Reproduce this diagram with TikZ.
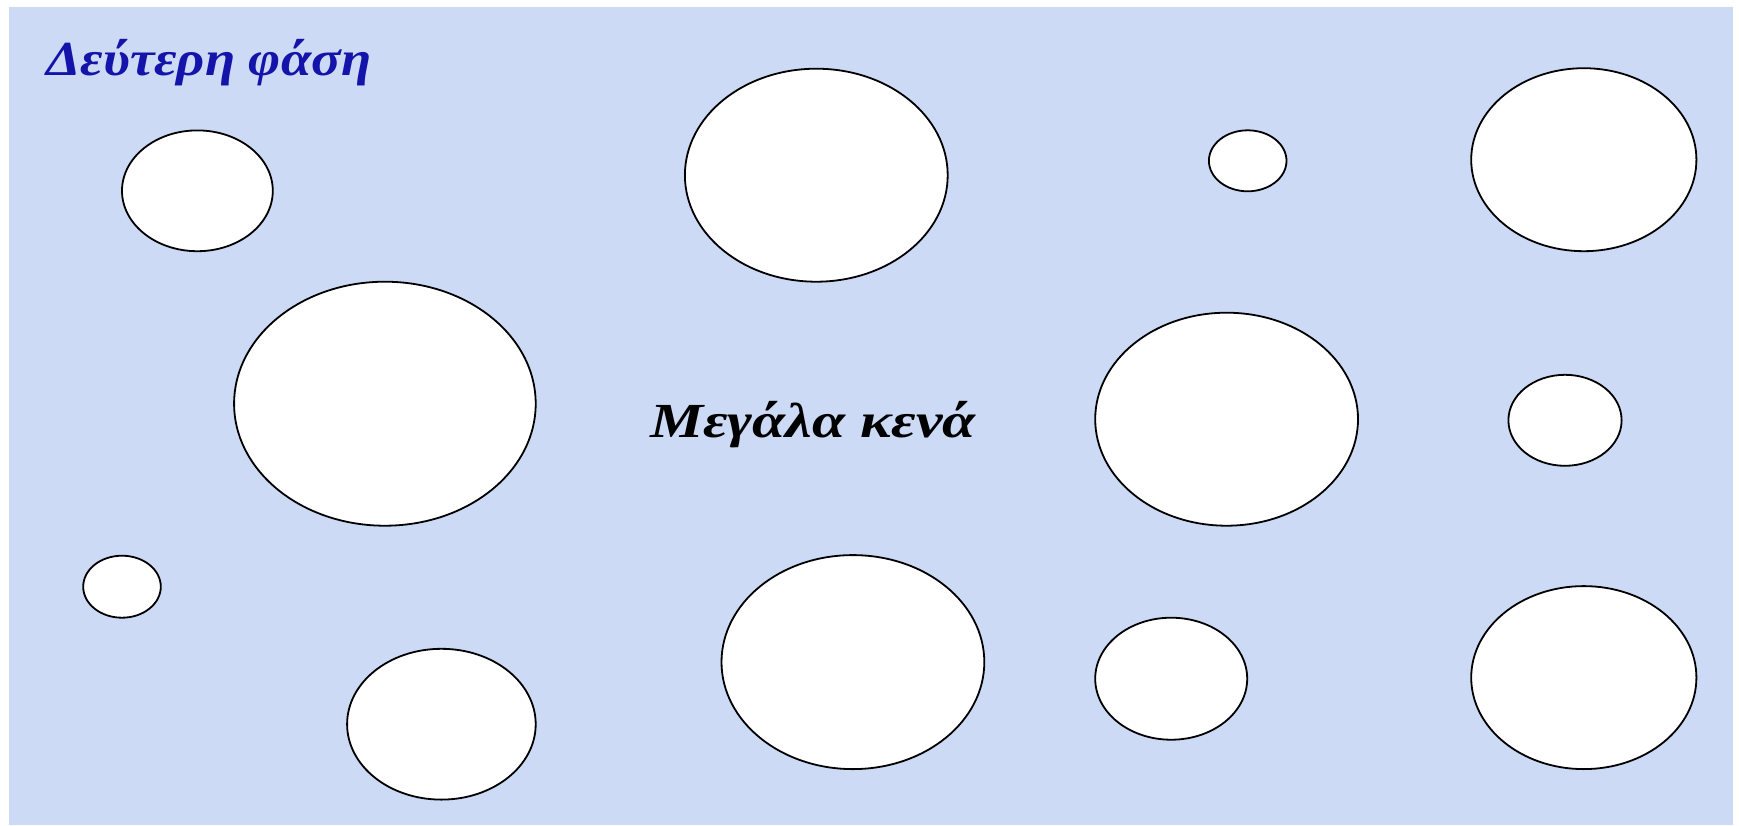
\documentclass[tikz,border=0pt]{standalone}
\usepackage{fontspec}
\setmainfont{Liberation Serif}
\definecolor{bgblue}{RGB}{204,218,246}
\definecolor{titleblue}{RGB}{20,20,170}
\begin{document}
\begin{tikzpicture}[x=1pt,y=-1pt,
  pore/.style={draw=black,line width=1.8pt,fill=white},
  lbl/.style={font=\bfseries\itshape\fontsize{49}{54}\selectfont,inner sep=0pt}]
\useasboundingbox (0,0) rectangle (1739,825);
\fill[white] (0,0) rectangle (1739,825);
\fill[bgblue] (9,7) rectangle (1733,825);
\draw[pore] (197.4,190.8) ellipse [x radius=75.4,y radius=60.4];
\draw[pore] (816.3,175.2) ellipse [x radius=131.4,y radius=106.5];
\draw[pore] (1247.7,160.8) ellipse [x radius=38.8,y radius=30.5];
\draw[pore] (1583.8,159.7) ellipse [x radius=112.6,y radius=91.5];
\draw[pore] (384.9,403.7) ellipse [x radius=150.8,y radius=122];
\draw[pore] (1226.6,419.2) ellipse [x radius=131.4,y radius=106.5];
\draw[pore] (1565,420.3) ellipse [x radius=56.6,y radius=45.5];
\draw[pore] (122,586.7) ellipse [x radius=38.8,y radius=31];
\draw[pore] (441.4,724.2) ellipse [x radius=94.3,y radius=75.4];
\draw[pore] (852.9,662.1) ellipse [x radius=131.4,y radius=107];
\draw[pore] (1171.2,678.7) ellipse [x radius=76,y radius=61];
\draw[pore] (1583.8,677.6) ellipse [x radius=112.6,y radius=91.5];
\node[lbl,text=titleblue,anchor=base west] (title) at (46,75) {\scalebox{1.12}[1]{Δεύτερη φάση}};
\node[lbl,text=black,anchor=base] (label) at (813,437) {\scalebox{1.22}[1]{Μεγάλα κενά}};
\end{tikzpicture}
\end{document}
